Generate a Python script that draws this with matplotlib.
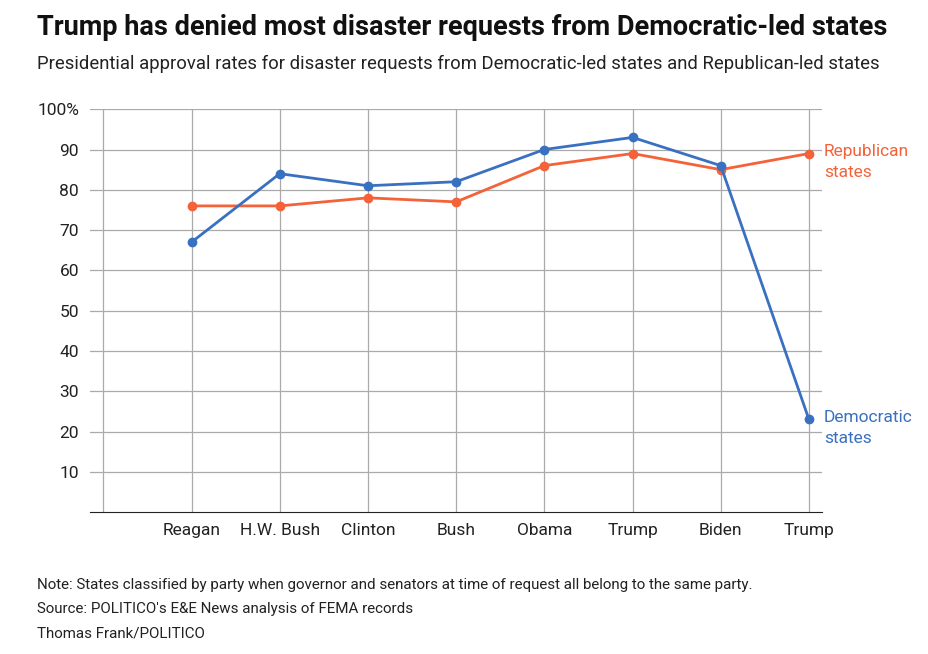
import matplotlib
matplotlib.use("Agg")
import matplotlib.pyplot as plt

categories = ["", "Reagan", "H.W. Bush", "Clinton", "Bush", "Obama", "Trump", "Biden", "Trump"]
republican = [76, 76, 78, 77, 86, 89, 85, 89]
democratic = [67, 84, 81, 82, 90, 93, 86, 23]
yticks = [10, 20, 30, 40, 50, 60, 70, 80, 90, 100]
ylabels = ["10", "20", "30", "40", "50", "60", "70", "80", "90", "100%"]

BLUE = "#3a70c0"
ORANGE = "#f4623a"
plt.rcParams["font.family"] = ["Roboto", "DejaVu Sans"]

fig = plt.figure(figsize=(9.29, 6.54), dpi=100)
ax = fig.add_axes([0.097, 0.217, 0.788, 0.616])
x = list(range(1, len(categories)))
ax.plot(x, republican, color=ORANGE, lw=2, marker="o", ms=6, zorder=3)
ax.plot(x, democratic, color=BLUE, lw=2, marker="o", ms=6, zorder=4)
ax.set_xlim(-0.15, 8.15)
ax.set_ylim(0, 100)
ax.set_yticks(yticks)
ax.set_yticklabels(ylabels, fontsize=12.5, color="#222")
ax.set_xticks(range(len(categories)))
ax.set_xticklabels(categories, fontsize=12.5, color="#222")
ax.tick_params(length=0, pad=8)
ax.grid(True, color="#aaaaaa", lw=0.9)
for s in ["top", "right", "left"]:
    ax.spines[s].set_visible(False)
ax.spines["bottom"].set_color("#222")
ax.text(8.17, republican[-1] + 2.3, "Republican\nstates", color=ORANGE, fontsize=12.5,
        va="top", ha="left", linespacing=1.45, clip_on=False)
ax.text(8.17, democratic[-1] + 2.3, "Democratic\nstates", color=BLUE, fontsize=12.5,
        va="top", ha="left", linespacing=1.45, clip_on=False)

fig.text(0.04, 0.958, "Trump has denied most disaster requests from Democratic-led states",
         fontsize=19.5, fontweight="bold", color="#111", va="center")
fig.text(0.04, 0.902, "Presidential approval rates for disaster requests from Democratic-led states and Republican-led states",
         fontsize=13.3, color="#222", va="center")
fig.text(0.04, 0.105, "Note: States classified by party when governor and senators at time of request all belong to the same party.",
         fontsize=10.9, color="#222", va="center")
fig.text(0.04, 0.069, "Source: POLITICO's E&E News analysis of FEMA records", fontsize=10.9, color="#222", va="center")
fig.text(0.04, 0.032, "Thomas Frank/POLITICO", fontsize=10.9, color="#222", va="center")
fig.savefig("out.png", dpi=100, facecolor="white")
